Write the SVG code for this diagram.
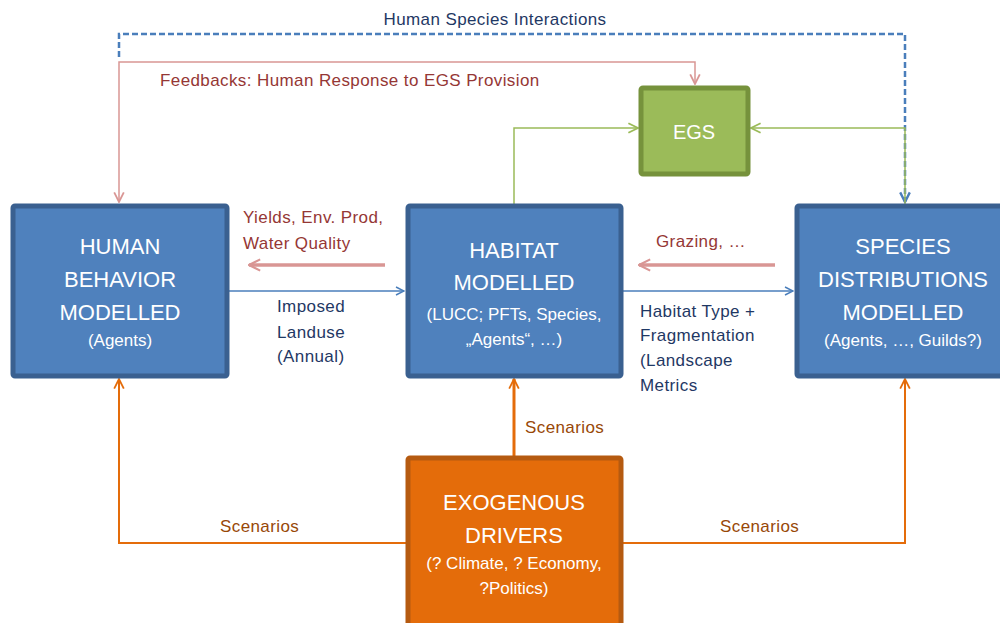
<svg xmlns="http://www.w3.org/2000/svg" width="1000" height="623" viewBox="0 0 1000 623">
<style>
.bt{font-family:"Liberation Sans",Arial,sans-serif;fill:#fff;text-anchor:middle}
.big{font-size:22px}
.sm{font-size:17px}
.lbl{font-family:"Liberation Sans",Arial,sans-serif;font-size:17px;letter-spacing:0.4px}
.red{fill:#953735}
.blu{fill:#1f3864}
.org{fill:#984807}
.bbox{fill:#4f81bd;stroke:#3a6090;stroke-width:5}
</style>
<defs>
<marker id="mBlue" viewBox="0 0 10 10" refX="9" refY="5" markerWidth="10" markerHeight="10" markerUnits="userSpaceOnUse" orient="auto"><path d="M1,1 L9,5 L1,9" fill="none" stroke="#4a7ebb" stroke-width="1.5"/></marker>
<marker id="mBlueD" viewBox="0 0 10 10" refX="9" refY="5" markerWidth="12" markerHeight="12" markerUnits="userSpaceOnUse" orient="auto"><path d="M1,1 L9,5 L1,9" fill="none" stroke="#4a7ebb" stroke-width="2"/></marker>
<marker id="mPink" viewBox="0 0 10 10" refX="9" refY="5" markerWidth="12" markerHeight="12" markerUnits="userSpaceOnUse" orient="auto-start-reverse"><path d="M1,1 L9,5 L1,9" fill="none" stroke="#d99694" stroke-width="1.5"/></marker>
<marker id="mPinkT" viewBox="0 0 10 10" refX="9" refY="5" markerWidth="14" markerHeight="14" markerUnits="userSpaceOnUse" orient="auto"><path d="M1,1 L9,5 L1,9" fill="none" stroke="#d99694" stroke-width="1.5"/></marker>
<marker id="mGreen" viewBox="0 0 10 10" refX="9" refY="5" markerWidth="12" markerHeight="12" markerUnits="userSpaceOnUse" orient="auto"><path d="M1,1 L9,5 L1,9" fill="none" stroke="#9bbb59" stroke-width="1.5"/></marker>
<marker id="mOrg" viewBox="0 0 10 10" refX="9" refY="5" markerWidth="12" markerHeight="12" markerUnits="userSpaceOnUse" orient="auto"><path d="M1,1 L9,5 L1,9" fill="none" stroke="#e46c0a" stroke-width="1.5"/></marker>
</defs>

<g id="connectors" fill="none">
  <path d="M119,57 L119,34 L905,34 L905,202" stroke="#4a7ebb" stroke-width="2.5" stroke-dasharray="6,3" marker-end="url(#mBlueD)"/>
  <path d="M514,204 L514,128 L638,128" stroke="#9bbb59" stroke-width="1.5" marker-end="url(#mGreen)"/>
  <path d="M905,204 L905,128 L751,128" stroke="#9bbb59" stroke-width="1.5" marker-end="url(#mGreen)"/>
  <path d="M119,202 L119,62 L695,62 L695,84" stroke="#d99694" stroke-width="1.5" marker-start="url(#mPink)" marker-end="url(#mPink)"/>
  <path d="M385,265 L249,265" stroke="#d99694" stroke-width="3.5" marker-end="url(#mPinkT)"/>
  <path d="M775,265 L639,265" stroke="#d99694" stroke-width="3.5" marker-end="url(#mPinkT)"/>
  <path d="M229,291 L404,291" stroke="#4a7ebb" stroke-width="1.5" marker-end="url(#mBlue)"/>
  <path d="M623,291 L793,291" stroke="#4a7ebb" stroke-width="1.5" marker-end="url(#mBlue)"/>
  <path d="M406,543 L119,543 L119,379" stroke="#e46c0a" stroke-width="2" marker-end="url(#mOrg)"/>
  <path d="M622,543 L905,543 L905,379" stroke="#e46c0a" stroke-width="2" marker-end="url(#mOrg)"/>
  <path d="M514,456 L514,379" stroke="#e46c0a" stroke-width="3" marker-end="url(#mOrg)"/>
</g>

<g id="labels">
  <text class="lbl blu" x="495" y="25" text-anchor="middle">Human Species Interactions</text>
  <text class="lbl red" x="160" y="86">Feedbacks: Human Response to EGS Provision</text>
  <text class="lbl red" x="243" y="223">Yields, Env. Prod,</text>
  <text class="lbl red" x="243" y="249">Water Quality</text>
  <text class="lbl red" x="656" y="247">Grazing, …</text>
  <text class="lbl blu" x="277" y="312">Imposed</text>
  <text class="lbl blu" x="277" y="338">Landuse</text>
  <text class="lbl blu" x="277" y="362">(Annual)</text>
  <text class="lbl blu" x="640" y="317">Habitat Type +</text>
  <text class="lbl blu" x="640" y="341">Fragmentation</text>
  <text class="lbl blu" x="640" y="366">(Landscape</text>
  <text class="lbl blu" x="640" y="391">Metrics</text>
  <text class="lbl org" x="220" y="532">Scenarios</text>
  <text class="lbl org" x="720" y="532">Scenarios</text>
  <text class="lbl org" x="525" y="433">Scenarios</text>
</g>

<g id="human">
  <rect class="bbox" x="13" y="206" width="214" height="170" rx="2"/>
  <text class="bt big" x="120" y="254">HUMAN</text>
  <text class="bt big" x="120" y="287">BEHAVIOR</text>
  <text class="bt big" x="120" y="320">MODELLED</text>
  <text class="bt sm" x="120" y="346">(Agents)</text>
</g>

<g id="habitat">
  <rect class="bbox" x="408" y="206" width="213" height="170" rx="2"/>
  <text class="bt big" x="514" y="258">HABITAT</text>
  <text class="bt big" x="514" y="290">MODELLED</text>
  <text class="bt sm" x="514" y="320">(LUCC; PFTs, Species,</text>
  <text class="bt sm" x="514" y="345">„Agents“, …)</text>
</g>

<g id="species">
  <rect class="bbox" x="797" y="206" width="215" height="170" rx="2"/>
  <text class="bt big" x="903" y="254">SPECIES</text>
  <text class="bt big" x="903" y="287">DISTRIBUTIONS</text>
  <text class="bt big" x="903" y="320">MODELLED</text>
  <text class="bt sm" x="903" y="346">(Agents, …, Guilds?)</text>
</g>

<g id="egs">
  <rect x="641" y="88" width="107" height="86" rx="2" fill="#9bbb59" stroke="#76923c" stroke-width="5"/>
  <text class="bt" x="694" y="139" font-size="20">EGS</text>
</g>

<g id="exogenous">
  <rect x="408" y="458" width="213" height="180" rx="2" fill="#e46c0a" stroke="#b55a10" stroke-width="5"/>
  <text class="bt big" x="514" y="510">EXOGENOUS</text>
  <text class="bt big" x="514" y="543">DRIVERS</text>
  <text class="bt sm" x="514" y="569">(? Climate, ? Economy,</text>
  <text class="bt sm" x="514" y="594">?Politics)</text>
</g>
</svg>
